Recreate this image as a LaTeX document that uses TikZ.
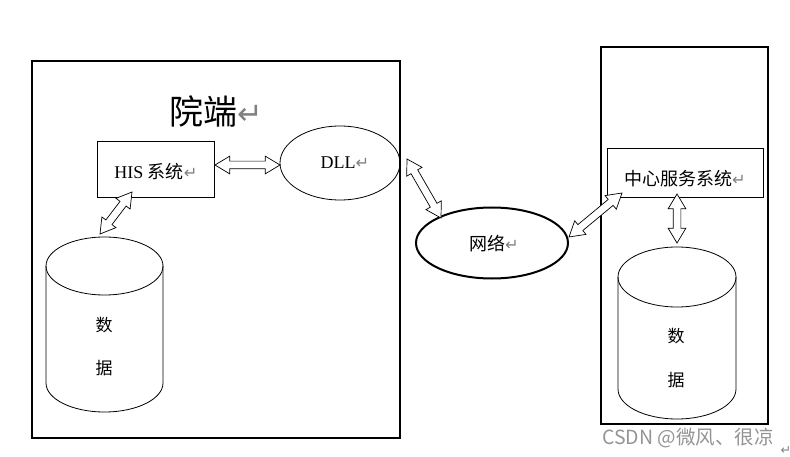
\documentclass[tikz,border=0pt]{standalone}
\usepackage{fontspec}
\usepackage{graphicx}
\setmainfont{Liberation Serif}
\newfontfamily\cjk{Noto Sans CJK SC}
\newfontfamily\symf{DejaVu Sans}
\usetikzlibrary{shapes.geometric,shapes.arrows,calc}
\newcommand\parmark{{\symf\color{black!50}\scalebox{0.9}{\char"21B5}}}
\newcommand\hollowarrow[2]{%
  \path let \p1=($(#2)-(#1)$), \n1={atan2(\y1,\x1)}, \n2={veclen(\x1,\y1)} in
    node[dblarrow, rotate=\n1, minimum height=\n2] at ($(#1)!0.5!(#2)$) {};}
\begin{document}
\begin{tikzpicture}[x=1pt,y=-1pt,
  thinline/.style={draw, line width=0.8pt},
  outerbox/.style={draw, line width=2pt},
  dblarrow/.style={double arrow, draw, fill=white, line width=0.7pt, inner sep=3.5pt,
    minimum width=7pt, double arrow head extend=5pt, double arrow tip angle=62},
  txt/.style={font=\fontsize{18}{20}\selectfont},
  cjktxt/.style={font=\fontsize{18}{20}\selectfont\cjk},
  cyltxt/.style={font=\fontsize{17}{19}\selectfont\cjk}]
\useasboundingbox (0,0) rectangle (790,457);
% outer boxes
\draw[outerbox] (32,61) rectangle (400,438);
\draw[outerbox] (601,47) rectangle (768,424);
% title
\node[font=\fontsize{34}{38}\selectfont\cjk] (title) at (216,111) {院端\parmark};
% HIS box
\node[thinline, minimum width=117pt, minimum height=56pt] (his) at (155.5,169) {};
\node[txt] (histxt) at (156,172) {HIS {\cjk 系统}\parmark};
% DLL
\node[thinline, ellipse, minimum width=120pt, minimum height=74pt] (dll) at (340,163) {};
\node[txt] (dlltxt) at (345,163) {DLL\parmark};
% network
\node[ellipse, draw, line width=2pt, minimum width=152pt, minimum height=71pt] (net) at (492,243) {};
\node[cjktxt] (nettxt) at (494,244) {网络\parmark};
% center system
\node[thinline, minimum width=156pt, minimum height=49pt] (ctr) at (685,172.5) {};
\node[cjktxt] (ctrtxt) at (685,179) {中心服务系统\parmark};
% left cylinder
\draw[line width=0.8pt] (104.5,266) ellipse [x radius=58.5pt, y radius=29pt];
\draw[line width=0.8pt] (46,266) -- (46,383) arc[start angle=180, end angle=360, x radius=58.5pt, y radius=29pt] -- (163,266);
\node[cyltxt] (d1) at (104,325) {数};
\node[cyltxt] (d2) at (104,368) {据};
% right cylinder
\draw[line width=0.8pt] (677,277) ellipse [x radius=59pt, y radius=30pt];
\draw[line width=0.8pt] (618,277) -- (618,389) arc[start angle=180, end angle=360, x radius=59pt, y radius=30pt] -- (736,277);
\node[cyltxt] (d3) at (676,336) {数};
\node[cyltxt] (d4) at (676,380) {据};
% arrow endpoints
\coordinate (a1s) at (215,165); \coordinate (a1e) at (280,165);
\coordinate (a2s) at (132,192); \coordinate (a2e) at (100,234);
\coordinate (a3s) at (407,159); \coordinate (a3e) at (441,218);
\coordinate (a4s) at (569,237); \coordinate (a4e) at (622,193);
\coordinate (a5s) at (677,194); \coordinate (a5e) at (677,243);
\hollowarrow{a1s}{a1e}
\hollowarrow{a2s}{a2e}
\hollowarrow{a3s}{a3e}
\hollowarrow{a4s}{a4e}
\hollowarrow{a5s}{a5e}
% watermark
\node[font=\fontsize{19.5}{21}\selectfont\cjk, text=black!42, anchor=west, inner sep=0pt] (wm) at (602,438) {CSDN @微风、很凉};
\node[inner sep=0pt, font=\fontsize{14}{16}\selectfont] (pm) at (786,451) {\parmark};
\end{tikzpicture}
\end{document}
